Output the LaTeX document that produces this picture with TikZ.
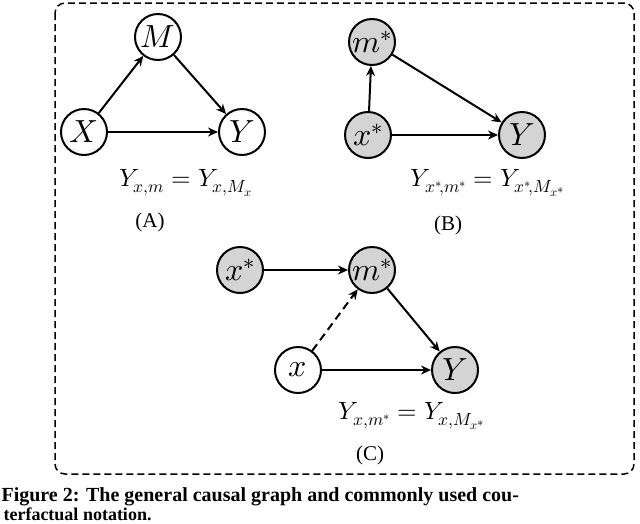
\documentclass[tikz,border=0pt]{standalone}
\usepackage{fontspec}
\setmainfont{Liberation Serif}
\usepackage{unicode-math}
\setmathfont{Latin Modern Math}
\usetikzlibrary{arrows.meta}
\begin{document}
\begin{tikzpicture}[x=1pt,y=-1pt,
 v/.style={circle,draw,line width=2pt,minimum size=46pt,inner sep=0pt,font=\fontsize{32}{34}\selectfont},
 g/.style={v,fill=black!17},
 e/.style={-{Stealth[length=10pt,width=9pt]},line width=2pt},
 eq/.style={font=\fontsize{25}{28}\selectfont},
 lab/.style={font=\fontsize{21}{24}\selectfont}]
\useasboundingbox (0,0) rectangle (640,523);
\clip (0,0) rectangle (640,523);
\draw[dash pattern=on 7pt off 4pt,line width=1.5pt,rounded corners=10pt] (55,3) rectangle (634,474);
% A
\node[v] (M) at (158,37) {$M$};
\node[v] (X) at (84,132) {$X$};
\node[v] (Y) at (242,132) {$Y$};
\draw[e] (X) -- (M); \draw[e] (M) -- (Y); \draw[e] (X) -- (Y);
\node[eq] (eqa) at (186,183) {$Y_{x,m}=Y_{x,M_x}$};
\node[lab] (la) at (150,222) {(A)};
% B
\node[g] (mb) at (372,42) {$m^*$};
\node[g] (xb) at (368,135) {$x^*$};
\node[g] (yb) at (522,135) {$Y$};
\draw[e] (xb) -- (mb); \draw[e] (mb) -- (yb); \draw[e] (xb) -- (yb);
\node[eq] (eqb) at (488,183) {$Y_{x^*\!,m^*}=Y_{x^*\!,M_{x^*}}$};
\node[lab] (lb) at (448,225) {(B)};
% C
\node[g] (xc) at (240,270) {$x^*$};
\node[g] (mc) at (372,270) {$m^*$};
\node[v] (xx) at (298,370) {$x$};
\node[g] (yc) at (455,370) {$Y$};
\draw[e] (xc) -- (mc); \draw[e] (mc) -- (yc); \draw[e] (xx) -- (yc);
\draw[e,dash pattern=on 8pt off 5pt] (xx) -- (mc);
\node[eq] (eqc) at (412,416) {$Y_{x,m^*}=Y_{x,M_{x^*}}$};
\node[lab] (lc) at (370,455) {(C)};
% caption
\node[anchor=west,font=\bfseries\fontsize{20}{22}\selectfont] (cap1) at (-2,497) {Figure 2: The general causal graph and commonly used cou-};
\node[anchor=west,font=\bfseries\fontsize{18}{20}\selectfont] (cap2) at (0,514) {terfactual notation.};
\end{tikzpicture}
\end{document}
